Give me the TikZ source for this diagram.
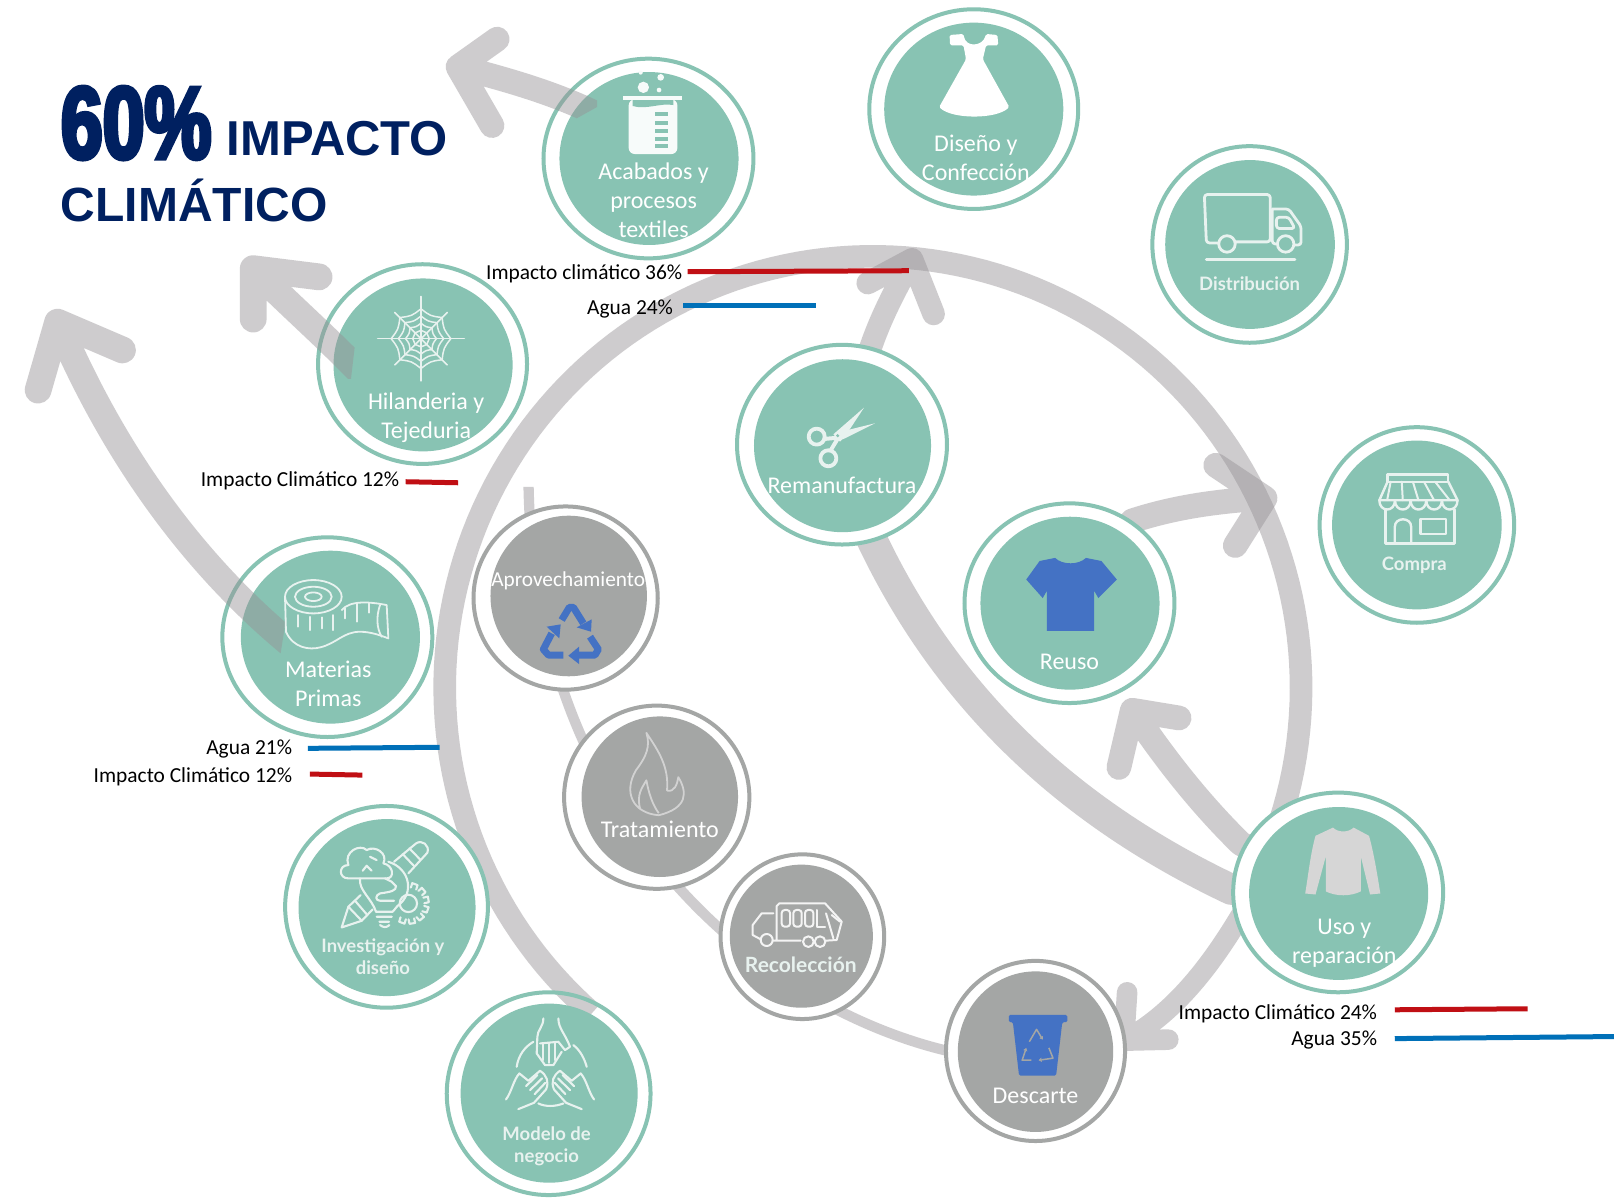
\documentclass[tikz,border=0pt]{standalone}
\usepackage{fontspec}
\usetikzlibrary{shapes.geometric,arrows.meta}
\newfontfamily\carlito{Carlito}
\newfontfamily\latof{Lato}
\newfontfamily\titlef{Liberation Sans}
\newfontfamily\impactf{Liberation Sans}[BoldFeatures={FakeStretch=.73,FakeBold=4}]
\definecolor{tealc}{RGB}{136,195,179}
\definecolor{grayc}{RGB}{164,166,165}
\definecolor{arrowc}{RGB}{150,146,150}
\definecolor{navy}{RGB}{0,32,96}
\definecolor{barred}{RGB}{192,15,20}
\definecolor{barblue}{RGB}{0,112,184}
\definecolor{iconblue}{RGB}{68,114,196}
\definecolor{softw}{RGB}{232,242,239}
\pgfdeclarelayer{under}
\pgfsetlayers{under,main}
\colorlet{discc}{tealc}
% name, outer cx cy rx ry, inner cx cy rx ry
\newcommand\disc[9]{%
  \node[outerdisc={#4}{#5}] (#1) at (#2,#3) {};
  \node[innerdisc={#8}{#9}] (#1In) at (#6,#7) {};}
\tikzset{
  outerdisc/.style 2 args={ellipse,draw=discc,fill=white,line width=4pt,inner sep=0pt,
    minimum width={(#1-1)*2.0587pt},minimum height={(#2-1)*2.0587pt}},
  innerdisc/.style 2 args={ellipse,fill=discc,draw=none,inner sep=0pt,
    minimum width={#1*2.0587pt},minimum height={#2*2.0587pt}},
  lab/.style={align=center,text=white,inner sep=0pt,font=\fontsize{24}{28.8}\selectfont\carlito},
  labraster/.style={align=center,text=softw,inner sep=0pt,font=\fontsize{18.5}{22}\selectfont\latof\bfseries},
  datalab/.style={anchor=east,text=black,inner sep=0pt,font=\fontsize{21.4}{25}\selectfont\carlito},
  flow/.style={draw=arrowc,draw opacity=.46,line cap=round,line join=round,line width=#1*1.0293pt},
  band/.style={draw=arrowc,draw opacity=.46,line cap=butt,line join=round,line width=#1*1.0293pt},
  redbar/.style={draw=barred,line width=5pt},
  bluebar/.style={draw=barblue,line width=5pt},
  iconl/.style={draw=softw,line width=2.2pt,line cap=round,line join=round},
  iconf/.style={fill=softw,draw=none},
}
\begin{document}
\begin{tikzpicture}[x=1.02934pt,y=-1.02934pt]
\useasboundingbox (0,0) rectangle (1568,1163);
\begin{pgfonlayer}{under}
\fill[white] (0,0) rectangle (1568,1163);
\end{pgfonlayer}

% ---------- discs
\colorlet{discc}{tealc}
\disc{acabados}{630}{154}{103}{98}{630.5}{154}{87}{84}
\disc{hilanderia}{410.5}{353.7}{102.5}{98}{411}{354.5}{87}{84}
\disc{materias}{318}{619}{103}{98}{321}{619}{87}{84}
\disc{diseno}{946}{106}{102.5}{98}{946}{106}{87}{84}
\disc{rema}{818}{432}{103}{98}{818.5}{433}{86}{84}
\disc{reuso}{1039}{586}{103}{98}{1039.5}{586}{87}{84}
\disc{uso}{1300}{867}{103}{98}{1300.5}{868}{87}{84}
\disc{distribucion}{1214}{237.5}{95.5}{96.5}{1214.4}{237.5}{82.4}{82}
\disc{compra}{1376.5}{510}{95.5}{96}{1376.5}{510}{82.4}{82}
\disc{investigacion}{375.5}{881}{99.5}{99}{376}{881.7}{86}{86}
\node[outerdisc={100}{99.5},fill=none] (modelo) at (533,1062.5) {};
\node[innerdisc={86}{87}] (modeloIn) at (533.5,1062) {};
\colorlet{discc}{grayc}
\disc{aprovecha}{549.5}{581}{90.5}{90}{552.5}{579}{76}{78}
\disc{tratamiento}{638}{774.5}{91}{90}{641}{774}{76}{78}
\disc{recoleccion}{779.5}{910}{80.5}{81}{778.5}{909.5}{69.5}{69.5}
\disc{descarte}{1006}{1021}{88}{88.5}{1006}{1021.7}{75.5}{78}

% ---------- bands below the discs
\begin{pgfonlayer}{under}
\draw[band=22] plot[domain=131:380,samples=140] ({848+416*cos(\x)},{668+419*sin(\x)}) -- (uso.center);
\draw[band=10] (513.5,473) .. controls (520,800) and (740,980) .. (925,1022) -- (descarte.center);
\draw[band=30] (uso.center) -- (1196,864) .. controls (1040,790) and (920,680) .. (845,520) -- (rema.center);
\draw[flow=22] (rema.center) -- (845,340) .. controls (855,310) and (868,285) .. (886,252)
   (843,275) -- (886,252) -- (907,305);
\draw[flow=24] (uso.center) -- (1205.6,819.7) .. controls (1165,780) and (1130,735) .. (1100,690)
   (1145.5,697.5) -- (1100,690) -- (1087,745.6);
\draw[flow=20] (uso.center) -- (1205,890) .. controls (1175,940) and (1140,985) .. (1092,1011)
   (1095,964) -- (1092,1011) -- (1135,1010);
\draw[flow=24] (reuso.center) -- (1100,506) .. controls (1140,493) and (1180,487) .. (1229,484)
   (1181,452) -- (1229,484) -- (1200,530);
\end{pgfonlayer}

% ---------- arrows over the discs
\begin{scope}
\clip (580,104) -- (553,119) -- (540,165) -- (420,165) -- (420,10) -- (580,10) -- cycle;
\draw[flow=24] (acabados.center) -- (590,116) .. controls (545,92) and (495,78) .. (445,65)
   (483,38) -- (445,65) -- (478,122);
\end{scope}
\begin{scope}
\clip (344.5,338) -- (341,368) -- (200,368) -- (200,220) -- (344.5,220) -- cycle;
\draw[flow=26] (hilanderia.center) -- (360,372) .. controls (320,330) and (285,300) .. (246,261)
   (310,269) -- (246,261) -- (246,310);
\end{scope}
\begin{scope}
\clip (277.6,603) -- (272.6,635) -- (0,635) -- (0,260) -- (277.6,260) -- cycle;
\draw[flow=26] (materias.center) -- (300,640) .. controls (190,555) and (110,440) .. (56,313)
   (119,340) -- (56,313) -- (37,379);
\end{scope}

% ---------- title
\node[anchor=base west,inner sep=0pt,text=navy,font=\fontsize{103}{103}\selectfont\impactf\bfseries] (pct) at (59,154) {60\%};
\node[anchor=base west,inner sep=0pt,text=navy,font=\fontsize{49}{49}\selectfont\titlef\bfseries] (impacto) at (220,151) {IMPACTO};
\node[anchor=base west,inner sep=0pt,text=navy,font=\fontsize{48}{48}\selectfont\titlef\bfseries] (climatico) at (59,215) {CLIMÁTICO};

% ---------- data bars
\draw[redbar] (668,264) -- (883,263);
\draw[bluebar] (664,297) -- (793,297);
\draw[redbar] (394,468) -- (445,469);
\draw[bluebar] (299,727) -- (427,726);
\draw[redbar] (301,752) -- (352,753);
\draw[redbar] (1355,981) -- (1484,980);
\draw[bluebar] (1355,1009) -- (1568,1007);
\node[datalab] (d1) at (663,266) {Impacto climático 36\%};
\node[datalab] (d2) at (654,300) {Agua 24\%};
\node[datalab] (d3) at (388,467) {Impacto Climático 12\%};
\node[datalab] (d4) at (284,727.5) {Agua 21\%};
\node[datalab] (d5) at (284,755) {Impacto Climático 12\%};
\node[datalab] (d6) at (1338,985) {Impacto Climático 24\%};
\node[datalab] (d7) at (1338,1010.5) {Agua 35\%};

% ---------- labels
\node[lab] (tAcabados) at (635,194.5) {Acabados y\\procesos\\textiles};
\node[lab] (tHilanderia) at (414,406) {Hilanderia y\\Tejeduria};
\node[lab] (tMaterias) at (319,664) {Materias\\Primas};
\node[lab] (tDiseno) at (948,153) {Diseño y\\Confección};
\node[lab] (tRema) at (818,472) {Remanufactura};
\node[lab] (tReuso) at (1039,643) {Reuso};
\node[lab] (tUso) at (1306,916) {Uso y\\reparación};
\node[lab,font=\fontsize{21.3}{26}\selectfont\carlito] (tAprov) at (552,564) {Aprovechamiento};
\node[lab] (tTrat) at (641,806) {Tratamiento};
\node[lab] (tDesc) at (1006,1065) {Descarte};
\node[labraster] (tDist) at (1214,276) {Distribución};
\node[labraster] (tCompra) at (1374,549) {Compra};
\node[labraster] (tInv) at (372,929.5) {Investigación y\\diseño};
\node[labraster] (tModelo) at (531,1114) {Modelo de\\negocio};
\node[labraster,font=\fontsize{21}{25}\selectfont\latof\bfseries] (tRec) at (778,937) {Recolección};

% ---------- icons
% beaker
\begin{scope}[shift={(573.2,58.3)},scale=.3239]
\fill[white!93!tealc,rounded corners=6pt] (116,118) -- (116,282) -- (262,282) -- (262,118) -- cycle;
\fill[white!93!tealc] (100,108) -- (276,108) -- (276,120) -- (100,120) -- cycle;
\fill[tealc] (128,120) -- (250,120) -- (250,135) .. controls (210,128) and (170,150) .. (128,138) -- cycle;
\foreach \y in {157,182,206,230,253} \fill[tealc] (195,\y) rectangle (235,\y+12);
\fill[white!93!tealc] (160,82) circle (17) (212,52) circle (10) (207,90) circle (7) (152,38) circle (6);
\end{scope}
% web
\begin{scope}[shift={(409,329)}]
\foreach \a/\l in {0/42,45/36,90/41,135/36,180/42,225/36,270/41,315/36} \draw[iconl,line width=1.6pt] (0,0) -- (\a:\l);
\foreach \r in {8,15,22,29} \foreach \a in {0,45,...,315}
  \draw[iconl,line width=1.5pt] (\a:\r) .. controls ({\a+22.5}:{\r*.82}) .. ({\a+45}:\r);
\end{scope}
% tape
\begin{scope}[shift={(262.3,544.1)},scale=.3239,every path/.style={iconl,line width=1.8pt}]
\draw (130,110) ellipse [x radius=85,y radius=50];
\draw (130,110) ellipse [x radius=55,y radius=30];
\draw (130,110) ellipse [x radius=25,y radius=13];
\draw (45,110) -- (48,215) .. controls (70,265) and (120,270) .. (150,262) .. controls (200,250) and (220,215) .. (270,215) .. controls (300,215) and (330,225) .. (355,235);
\draw (215,150) .. controls (240,120) and (300,125) .. (350,135) -- (355,235);
\draw (330,135) .. controls (318,170) and (320,205) .. (335,230);
\draw (85,165) -- (85,200) (120,170) -- (120,210) (155,172) -- (155,205) (190,165) -- (190,210) (225,145) -- (225,175) (262,130) -- (262,185) (297,128) -- (297,158);
\end{scope}
% dress
\fill[white,rounded corners=1.5pt] (922.5,34) -- (923,44) -- (936,44) -- (938.5,57.6) -- (912.4,104) .. controls (925,116) and (968,116) .. (980.5,104)
  -- (954.8,57.6) -- (958,44) -- (969.8,44) -- (969,34) -- (958,33) .. controls (956,41) and (950,43) .. (946,43) .. controls (942,43) and (937,41) .. (936,33) -- cycle;
% scissors
\begin{scope}[shift={(767.5,383.7)},scale=.3239]
\draw[iconl,line width=3.8pt] (80,125) circle (24) (115,190) circle (24);
\draw[iconl,line width=4pt] (103,132) -- (145,128) (122,166) -- (145,128);
\fill[softw] (130,118) -- (222,38) -- (168,120) -- (150,140) -- cycle;
\fill[softw] (145,112) -- (255,85) -- (165,130) -- (145,138) -- cycle;
\fill[tealc] (143,122) circle (5);
\end{scope}
% shirt
\fill[iconblue] (1025,542) .. controls (1032,549) and (1048,549) .. (1055,542) -- (1070,545) -- (1085,563) -- (1067,581) -- (1063,574) -- (1063,613) -- (1017,613) -- (1017,574) -- (1013,581) -- (997,563) -- (1010,545) -- cycle;
% sweater
\fill[gray!32] (1295,804) .. controls (1300,809) and (1310,809) .. (1315,804) -- (1330,812) .. controls (1335,830) and (1338,850) .. (1341,868) -- (1331,869) -- (1322,832) -- (1322,866) .. controls (1312,871) and (1298,871) .. (1288,866) -- (1288,832) -- (1278,869) -- (1268,868) .. controls (1271,850) and (1273,830) .. (1278,812) -- cycle;
% truck
\draw[iconl,line width=2.8pt,rounded corners=3pt] (1183,236) -- (1172,236) -- (1170,189) -- (1234,189) -- (1234,235) -- (1201,235);
\draw[iconl,line width=2.8pt,rounded corners=3pt] (1236,203) -- (1252,203) -- (1264,220) -- (1264,238) -- (1258,238) (1240,237) -- (1236,237) -- (1236,203) (1240,211) -- (1252,211) -- (1258,222) -- (1240,222) -- cycle;
\draw[iconl,line width=2.8pt] (1192,237) circle (8) (1249,237) circle (8);
\draw[iconl,line width=3pt] (1172,252) -- (1258,252);
% store
\draw[iconl,line width=2.4pt] (1348,461) rectangle (1407,468);
\draw[iconl,line width=2.4pt] (1348,468) -- (1340,486) (1407,468) -- (1416,486) (1340,486) -- (1416,486);
\foreach \i in {0,1,2,3,4} {
  \draw[iconl,line width=2.4pt] ({1340+\i*15.2},486) .. controls ({1340+\i*15.2},498) and ({1355.2+\i*15.2},498) .. ({1355.2+\i*15.2},486);
  \draw[iconl,line width=2pt] ({1351+\i*10.8},468) -- ({1347.6+\i*15.2},486);}
\draw[iconl,line width=2.4pt] (1346,495) -- (1346,528) -- (1413,528) -- (1413,495);
\draw[iconl,line width=2.4pt] (1355,528) -- (1355,512) .. controls (1355,502) and (1371,502) .. (1371,512) -- (1371,528);
\draw[iconl,line width=2.4pt] (1380,504) rectangle (1405,519);
% bulb / brain / pencils / gear
\begin{scope}[shift={(310.9,786.96)},scale=.3239,every path/.style={iconl,line width=2.1pt}]
\draw (200,205) -- (85,205) .. controls (55,205) and (55,165) .. (85,165) .. controls (70,125) and (120,100) .. (140,120) .. controls (165,105) and (205,130) .. (190,160) .. controls (220,165) and (225,205) .. (200,205);
\draw (128,182) -- (140,167) -- (155,182) (150,140) -- (170,150);
\draw (120,205) .. controls (115,240) and (155,265) .. (168,305);
\draw (205,155) .. controls (270,175) and (285,250) .. (232,288) -- (218,305);
\draw (168,305) -- (218,305) (170,320) -- (215,320) (178,335) -- (207,335) (180,345) .. controls (190,353) and (200,353) .. (208,345);
\draw (195,205) -- (215,215) -- (228,228) .. controls (228,242) and (215,245) .. (180,250) .. controls (165,255) and (165,272) .. (180,272) -- (222,272);
\draw (222,155) -- (288,100) .. controls (305,88) and (330,105) .. (322,128) -- (265,190);
\draw (248,132) -- (282,168) (268,115) -- (300,148);
\draw (122,255) -- (85,290) -- (65,352) -- (125,332) -- (158,298);
\draw (85,290) -- (125,332) (105,272) -- (142,315);
\draw (265,280) circle (26);
\foreach \a in {-70,-40,...,110}
  \draw (265,280) ++({\a-11}:48) -- ++({\a-3}:14) -- ++({\a+90}:17) -- ++({\a+177}:14);
\end{scope}
% hands
\begin{scope}[shift={(476.05,981.3)},scale=.3239,every path/.style={iconl,line width=2.1pt}]
\draw (160,25) .. controls (160,50) and (142,60) .. (142,80) -- (140,130) -- (165,165) -- (190,165) -- (215,125);
\draw (205,25) .. controls (205,55) and (225,70) .. (240,110) -- (225,120) -- (205,95) -- (150,100);
\draw (160,100) -- (160,150) (178,100) -- (178,158) (195,100) -- (195,150);
\draw (130,95) .. controls (105,110) and (85,135) .. (80,170);
\draw (250,105) .. controls (270,120) and (283,145) .. (290,170);
\draw (145,280) .. controls (165,290) and (195,290) .. (220,280);
\foreach \m in {0,1} {
\begin{scope}[xshift={\m*360*1.02934pt},xscale={1-2*\m}]
\draw (48,268) .. controls (65,245) and (70,210) .. (88,190) -- (115,212) -- (150,182) .. controls (170,195) and (178,215) .. (168,238) -- (132,278) -- (85,297);
\draw (108,228) -- (142,195) (120,240) -- (156,205) (134,252) -- (166,218);
\end{scope}}
\end{scope}
% recycle sign
\begin{scope}[shift={(514.9,573.2)},scale=.3239]
\draw[draw=iconblue,line width=7pt,line join=round] (95,90) -- (118,52) -- (130,52) -- (160,100);
\fill[iconblue] (185,88) -- (183,125) -- (140,112) -- cycle;
\draw[draw=iconblue,line width=7pt,line join=round] (180,140) -- (205,178) -- (195,195) -- (145,195);
\fill[iconblue] (115,197) -- (147,170) -- (147,222) -- cycle;
\draw[draw=iconblue,line width=7pt,line join=round] (100,195) -- (55,195) -- (40,178) -- (65,130);
\fill[iconblue] (50,110) -- (92,103) -- (88,145) -- cycle;
\end{scope}
% flame
\draw[draw=gray!35,line width=1.8pt,line join=round] (628,712) .. controls (640,730) and (650,745) .. (648,768) .. controls (655,770) and (658,762) .. (659,755) .. controls (668,770) and (668,785) .. (640,792) .. controls (615,790) and (605,770) .. (618,748) .. controls (628,735) and (632,725) .. (628,712) -- cycle
  (622,786) .. controls (618,772) and (624,765) .. (628,758) .. controls (630,770) and (634,782) .. (640,790);
% refuse truck
\begin{scope}[shift={(709.2,854.9)},scale=.3239,every path/.style={iconl,draw=white!88!grayc,line width=2pt}]
\draw (130,100) -- (95,100) -- (68,135) -- (68,165) -- (92,178);
\draw (110,180) circle (18) (235,185) circle (16) (270,185) circle (16);
\draw (128,182) -- (212,182) (140,182) -- (140,78) -- (148,70) -- (285,70) -- (335,125) -- (320,180) -- (288,182);
\draw (288,100) -- (310,175) (305,105) -- (330,125);
\draw[rounded corners=3pt] (155,90) rectangle (180,140) (190,90) rectangle (215,140) (225,90) rectangle (250,140);
\draw (262,90) -- (262,140) -- (285,140);
\end{scope}
% bin
\fill[iconblue,rounded corners=1.5pt] (980,986) -- (1037,986) -- (1037,993) -- (1032,993) -- (1026,1045) -- (990,1045) -- (984,993) -- (980,993) -- cycle;
\begin{scope}[draw=grayc,line width=1.5pt,line join=round]
\draw[-{Triangle[length=3pt,width=4pt]}] (1000,1012) -- (1007,1000) -- (1013,1010);
\draw[-{Triangle[length=3pt,width=4pt]}] (1019,1018) -- (1023,1028) -- (1009,1030);
\draw[-{Triangle[length=3pt,width=4pt]}] (1002,1030) -- (993,1030) -- (997,1018);
\end{scope}
\end{tikzpicture}
\end{document}
